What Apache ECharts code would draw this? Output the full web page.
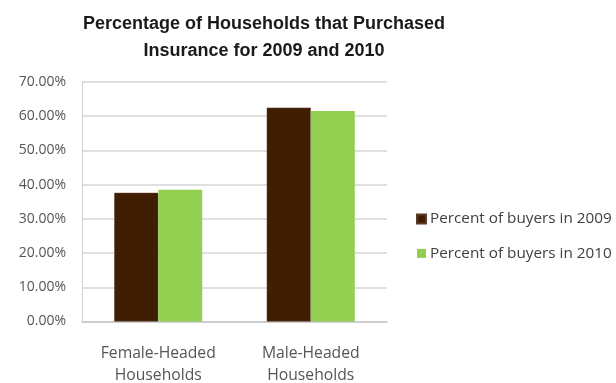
<!DOCTYPE html>
<html>
<head>
<meta charset="utf-8">
<script src="https://cdn.jsdelivr.net/npm/echarts@6/dist/echarts.min.js"></script>
<style>
  html, body { margin: 0; padding: 0; background: #ffffff; }
  #chart { width: 616px; height: 383px; }
</style>
</head>
<body>
<div id="chart"></div>
<script>
// Household groups on the category axis
const categories = ['Female-Headed\nHouseholds', 'Male-Headed\nHouseholds'];
// Share of households buying insurance, in percent
const buyers2009 = [37.6, 62.5];
const buyers2010 = [38.5, 61.5];
const seriesNames = ['Percent of buyers in 2009', 'Percent of buyers in 2010'];
// Value axis range and step
const yMin = 0;
const yMax = 70;
const yStep = 10;

const labelFont = 'Open Sans';
const chart = echarts.init(document.getElementById('chart'), null, { renderer: 'canvas' });

chart.setOption({
  animation: false,
  backgroundColor: '#ffffff',
  title: {
    text: 'Percentage of Households that Purchased\nInsurance for 2009 and 2010',
    left: 259,
    top: 6,
    textAlign: 'center',
    textStyle: {
      fontFamily: 'Liberation Sans',
      fontWeight: 'bold',
      fontSize: 18,
      lineHeight: 27,
      color: '#1a1a1a'
    }
  },
  legend: {
    orient: 'vertical',
    left: 411,
    top: 205,
    itemWidth: 9,
    itemHeight: 9,
    itemGap: 16.4,
    icon: 'rect',
    textStyle: {
      fontFamily: labelFont,
      fontSize: 15.3,
      lineHeight: 18,
      color: '#404040',
      padding: [0, 0, 0, -1]
    },
    data: seriesNames
  },
  grid: {
    left: 82,
    right: 616 - 387,
    top: 82,
    bottom: 383 - 321.5,
    containLabel: false,
    outerBoundsMode: 'none'
  },
  xAxis: {
    type: 'category',
    data: categories,
    axisLine: { lineStyle: { color: '#c8c8c8', width: 1.5 } },
    axisTick: { show: false },
    axisLabel: {
      fontFamily: labelFont,
      fontSize: 15.7,
      lineHeight: 22,
      color: '#555555',
      margin: 21
    }
  },
  yAxis: {
    type: 'value',
    min: yMin,
    max: yMax,
    interval: yStep,
    axisLine: { show: true, lineStyle: { color: '#d0d0d0', width: 1 } },
    axisTick: { show: false },
    splitLine: { lineStyle: { color: '#d6d6d6', width: 1.5 } },
    axisLabel: {
      fontFamily: labelFont,
      fontSize: 14,
      color: '#555555',
      margin: 16,
      formatter: v => v.toFixed(2) + '%'
    }
  },
  series: [
    {
      name: seriesNames[0],
      type: 'bar',
      data: buyers2009,
      barWidth: 44,
      barGap: '0%',
      itemStyle: { color: '#401e02', borderColor: '#5a3a2a', borderWidth: 0.5 }
    },
    {
      name: seriesNames[1],
      type: 'bar',
      data: buyers2010,
      barWidth: 44,
      barGap: '0%',
      itemStyle: { color: '#92cf50' }
    }
  ]
});
</script>
</body>
</html>
